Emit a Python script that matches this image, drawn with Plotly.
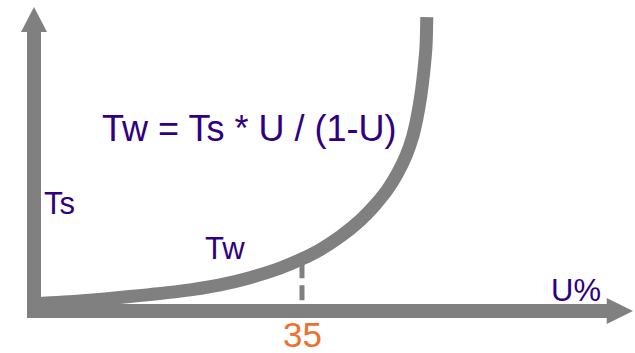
import plotly.graph_objects as go

# curve: utilisation (%) vs waiting time (in units of Ts)
u_pct = [0.0, 6.0, 12.5, 19.1, 24.3, 28.2, 32.1, 34.7, 37.4, 40.0, 42.6,
         44.5, 46.2, 47.5, 48.6, 49.4, 50.0, 50.5, 50.9, 51.2, 51.3]
tw = [0.08, 0.11, 0.16, 0.22, 0.29, 0.37, 0.475, 0.567, 0.683, 0.827, 1.007,
      1.174, 1.354, 1.535, 1.728, 1.922, 2.138, 2.383, 2.658, 2.947, 3.267]

marker_u = 35
marker_label = "35"
formula = "Tw = Ts * U / (1-U)"

GREY = "#808080"
INK = "#300080"
ORANGE = "#EE7030"
FONT = "Liberation Sans, Arial, sans-serif"

fig = go.Figure()

# dashed drop line at U = 35
fig.add_trace(go.Scatter(
    x=[marker_u, marker_u], y=[0.53, 0.11], mode="lines",
    line=dict(color=GREY, width=5, dash="15px,7px"), hoverinfo="skip"
))

# the Tw curve
fig.add_trace(go.Scatter(
    x=u_pct, y=tw, mode="lines", line_shape="spline", line_smoothing=0.6,
    line=dict(color=GREY, width=13), hoverinfo="skip"
))

# hand-drawn style axes with arrow heads
fig.add_shape(type="path", path="M 0,3.1 L 0,0 L 74.9,0",
              line=dict(color=GREY, width=14), layer="below")
fig.add_shape(type="path", path="M -1.7,3.1 L 0,3.378 L 1.7,3.1 Z",
              fillcolor=GREY, line=dict(width=0))
fig.add_shape(type="path", path="M 74.8,0.144 L 78.23,0 L 74.8,-0.144 Z",
              fillcolor=GREY, line=dict(width=0))


def label(text, px, py, size, color=INK):
    fig.add_annotation(text=text, x=px / 635, y=1 - py / 353, xref="paper", yref="paper",
                       showarrow=False, xanchor="center", yanchor="middle",
                       font=dict(family=FONT, size=size, color=color))


label(formula, 249, 128.5, 36)
label("Ts", 59, 203.5, 31)
label("Tw", 225, 248, 31)
label("U%", 576, 290, 31)
label(marker_label, 302.5, 334.5, 35, ORANGE)

fig.update_layout(
    width=635, height=353,
    margin=dict(l=0, r=0, t=0, b=0),
    paper_bgcolor="white", plot_bgcolor="white",
    showlegend=False,
    xaxis=dict(range=[-4.44, 78.49], visible=False, fixedrange=True),
    yaxis=dict(range=[-0.467, 3.456], visible=False, fixedrange=True),
)

fig.write_html("out.html", config={"displayModeBar": False},
               post_script="document.body.style.margin='0';")
